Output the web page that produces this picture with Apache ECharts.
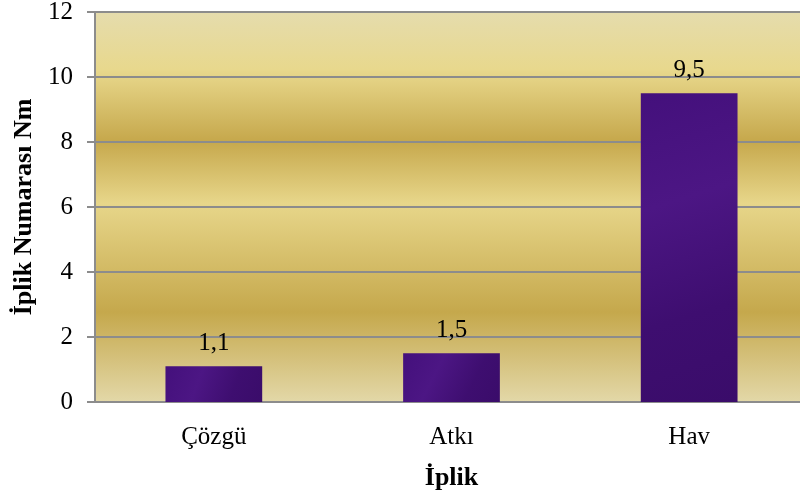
<!DOCTYPE html>
<html><head><meta charset="utf-8">
<script src="https://cdn.jsdelivr.net/npm/echarts@6/dist/echarts.min.js"></script>
<style>html,body{margin:0;padding:0;background:#fff}#c{width:800px;height:500px}</style>
</head><body><div id="c"></div>
<script>
const categories = ['Çözgü', 'Atkı', 'Hav'];
const values = [1.1, 1.5, 9.5];
const valueLabels = ['1,1', '1,5', '9,5'];
const yTicks = [0, 2, 4, 6, 8, 10, 12];

const font = '"Liberation Serif", "Times New Roman", serif';
const chart = echarts.init(document.getElementById('c'), null, {renderer: 'canvas'});
chart.setOption({
  animation: false,
  grid: {
    left: 95, right: -8, top: 12, bottom: 98,
    outerBoundsMode: 'none', containLabel: false,
    show: true, borderWidth: 0,
    backgroundColor: {
      type: 'linear', x: 0, y: 0, x2: 0, y2: 1,
      colorStops: [
        {offset: 0, color: '#e5dcad'},
        {offset: 0.15, color: '#e8d88c'},
        {offset: 0.33, color: '#c6a84c'},
        {offset: 0.49, color: '#e7d68a'},
        {offset: 0.77, color: '#c5a84c'},
        {offset: 1, color: '#e3d8a8'}
      ]
    }
  },
  xAxis: {
    type: 'category', data: categories,
    name: 'İplik', nameLocation: 'middle', nameGap: 63,
    nameTextStyle: {fontFamily: font, fontSize: 26, fontWeight: 'bold', color: '#000'},
    axisLine: {lineStyle: {color: '#8c8c8c', width: 2}},
    axisTick: {show: false},
    axisLabel: {fontFamily: font, fontSize: 25, color: '#000', margin: 23}
  },
  yAxis: {
    type: 'value', min: 0, max: 12, interval: 2,
    name: 'İplik Numarası Nm', nameLocation: 'middle', nameGap: 58,
    nameTextStyle: {fontFamily: font, fontSize: 26, fontWeight: 'bold', color: '#000'},
    axisLine: {show: true, lineStyle: {color: '#8c8c8c', width: 2}},
    axisTick: {show: true, length: 8, lineStyle: {color: '#8c8c8c', width: 2}},
    axisLabel: {fontFamily: font, fontSize: 25, color: '#000', margin: 22,
      formatter: v => yTicks.includes(v) ? String(v) : ''},
    splitLine: {show: true, lineStyle: {color: '#8c8c8c', width: 2}}
  },
  series: [{
    type: 'bar', data: values, barWidth: '40.7%',
    itemStyle: {
      color: {
        type: 'linear', x: 0, y: 0, x2: 1, y2: 1,
        colorStops: [
          {offset: 0, color: '#44107c'},
          {offset: 0.35, color: '#4c1684'},
          {offset: 0.7, color: '#3e0e70'},
          {offset: 1, color: '#3a0c6a'}
        ]
      }
    },
    label: {
      show: true, position: 'top', distance: 10,
      fontFamily: font, fontSize: 25, color: '#000',
      formatter: p => valueLabels[p.dataIndex]
    }
  }]
});
</script></body></html>
